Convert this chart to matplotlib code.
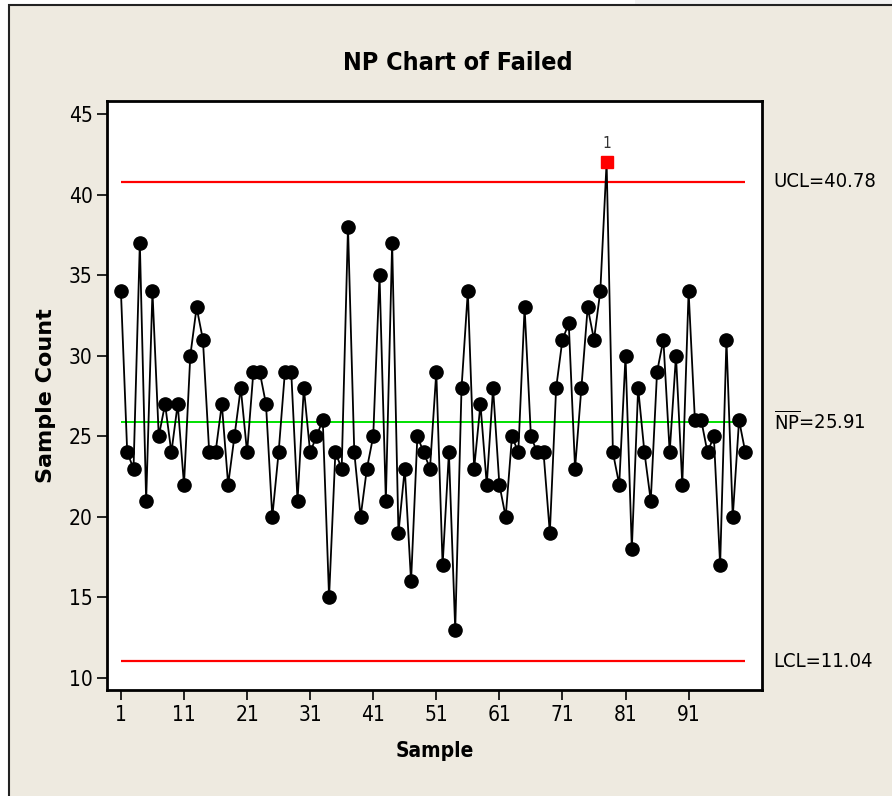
import matplotlib
matplotlib.use("Agg")
import matplotlib.pyplot as plt
from matplotlib.patches import Rectangle
import numpy as np

plt.rcParams['font.family'] = ['DejaVu Sans']
plt.rcParams['font.stretch'] = 'condensed'
plt.rcParams['mathtext.fontset'] = 'custom'
plt.rcParams['mathtext.rm'] = 'DejaVu Sans:stretch=condensed'

# number failed in each sample (subgroup size 500)
failed = [34, 24, 23, 37, 21, 34, 25, 27, 24, 27,
          22, 30, 33, 31, 24, 24, 27, 22, 25, 28,
          24, 29, 29, 27, 20, 24, 29, 29, 21, 28,
          24, 25, 26, 15, 24, 23, 38, 24, 20, 23,
          25, 35, 21, 37, 19, 23, 16, 25, 24, 23,
          29, 17, 24, 13, 28, 34, 23, 27, 22, 28,
          22, 20, 25, 24, 33, 25, 24, 24, 19, 28,
          31, 32, 23, 28, 33, 31, 34, 42, 24, 22,
          30, 18, 28, 24, 21, 29, 31, 24, 30, 22,
          34, 26, 26, 24, 25, 17, 31, 20, 26, 24]
sample = np.arange(1, len(failed) + 1)
ucl = 40.78
center = 25.91
lcl = 11.04
xticks = [1, 11, 21, 31, 41, 51, 61, 71, 81, 91]
yticks = [10, 15, 20, 25, 30, 35, 40, 45]

bg = "#eeeae0"
fig = plt.figure(figsize=(8.92, 7.96), dpi=100, facecolor="white")
# light strip at the top right, then beige panel with dark frame on left/top
fig.add_artist(Rectangle((635 / 892, 1 - 5 / 796), 1.0, 5 / 796,
                         transform=fig.transFigure, facecolor="#f2f2f2",
                         edgecolor="none", zorder=0))
fig.add_artist(Rectangle((9 / 892, -0.01), 1.0, 1.0 - 5 / 796 + 0.01,
                         transform=fig.transFigure, facecolor=bg,
                         edgecolor="#222222", lw=1.5, zorder=0))

ax = fig.add_axes([0.120, 0.133, 0.734, 0.740])
ax.set_facecolor("white")

ax.hlines([ucl, lcl], 1, 100, color="#ff0000", lw=1.6, zorder=2)
ax.hlines(center, 1, 100, color="#00e000", lw=1.4, zorder=2)

y = np.array(failed)
ax.plot(sample, y, color="black", lw=1.3, zorder=3)
ok = (y <= ucl) & (y >= lcl)
ax.plot(sample[ok], y[ok], "o", color="black", ms=9.5, zorder=4)
ax.plot(sample[~ok], y[~ok], "s", color="#ff0000", ms=8, zorder=5)
for s, v in zip(sample[~ok], y[~ok]):
    ax.annotate("1", (s, v), xytext=(0, 8), textcoords="offset points",
                ha="center", va="bottom", fontsize=11, color="#333333")

ax.set_xlim(-1.2, 102.6)
ax.set_ylim(9.25, 45.8)
ax.set_xticks(xticks)
ax.set_yticks(yticks)
ax.tick_params(labelsize=15, length=7, width=1.2, color="black")
for sp in ax.spines.values():
    sp.set_linewidth(2)

ax.set_xlabel("Sample", fontsize=15, fontweight="bold", labelpad=12)
ax.set_ylabel("Sample Count", fontsize=16, fontweight="bold",
              fontstretch="normal", labelpad=9)
fig.text(458 / 892, 1 - 63 / 796, "NP Chart of Failed", fontsize=18,
         fontweight="bold", ha="center", va="center")

tx = 1.018
trans = ax.get_yaxis_transform()
ax.text(tx, ucl, "UCL=40.78", transform=trans, va="center", ha="left", fontsize=14.5)
ax.text(tx, center, r"$\overline{\mathrm{NP}}$=25.91", transform=trans,
        va="center", ha="left", fontsize=14.5)
ax.text(tx, lcl, "LCL=11.04", transform=trans, va="center", ha="left", fontsize=14.5)

fig.savefig("out.png", dpi=100, facecolor="white")
